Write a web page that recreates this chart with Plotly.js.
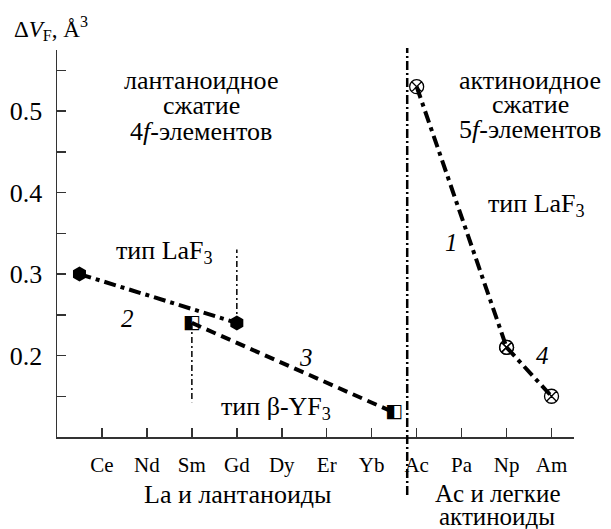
<!DOCTYPE html>
<html><head><meta charset="utf-8">
<script src="https://cdn.plot.ly/plotly-3.0.1.min.js"></script>
<style>body{margin:0;background:#fff}#c{width:611px;height:529px}</style>
</head><body><div id="c"></div>
<script>
// Tick labels (every other element), positions in element-index units
const tickPos = [1,2,3,4,5,6,7,8,9,10,11];
const tickLabels = ['Ce','Nd','Sm','Gd','Dy','Er','Yb','Ac','Pa','Np','Am'];
// series 2: LaF3 type, La -> Gd
const s2x = [0.5, 4];      // La, Gd
const s2y = [0.30, 0.24];
// series 3: β-YF3 type, Sm -> Lu
const s3x = [3, 7.5];      // Sm, Lu
const s3y = [0.24, 0.13];
// series 1: actinides Ac -> Np
const s1x = [8, 10];       // Ac, Np
const s1y = [0.53, 0.21];
// series 4: Np -> Am
const s4x = [10, 11];
const s4y = [0.21, 0.15];
// thin phase-boundary markers
const smLineY = [0.24, 0.1425];
const gdLineY = [0.24, 0.33];
const separatorX = 7.79;
const yTicks = [0.15,0.2,0.25,0.3,0.35,0.4,0.45,0.5,0.55];
const yTickText = ['','0.2','','0.3','','0.4','','0.5',''];

const xRange = [0, 11.5], yRange = [0.1, 0.575];
const L = 57, T = 50, W = 517, H = 387;
const px = x => (x - L) / W;
const py = y => (T + H - y) / H;
const F = 'Liberation Serif';
const blk = '#000';

const traces = [
  {x: s2x, y: s2y, mode: 'lines+markers', line: {color: blk, width: 4, dash: '12px,5px,4px,5px'},
   marker: {symbol: 'hexagon', size: 15, color: blk}},
  {x: s3x, y: s3y, mode: 'lines', line: {color: blk, width: 4, dash: '10px,6px'}},
  {x: s3x, y: s3y, mode: 'text', text: ['◧','◧'], textposition: 'middle center',
   textfont: {family: 'DejaVu Sans', size: 19, color: blk}},
  {x: s1x, y: s1y, mode: 'lines+markers', line: {color: blk, width: 4, dash: '12px,5px,4px,5px'},
   marker: {symbol: 'circle-x-open', size: 14, color: blk, line: {width: 1.3, color: blk}}},
  {x: s4x, y: s4y, mode: 'lines+markers', line: {color: blk, width: 4, dash: '12px,5px,4px,5px'},
   marker: {symbol: 'circle-x-open', size: 14, color: blk, line: {width: 1.3, color: blk}}},
  {x: [s3x[0], s3x[0]], y: smLineY, mode: 'lines', line: {color: blk, width: 1.5, dash: '6px,3px,2px,3px'}},
  {x: [s2x[1], s2x[1]], y: gdLineY, mode: 'lines', line: {color: blk, width: 1.5, dash: '6px,3px,2px,3px'}}
];

function ann(text, x, y, size, extra) {
  return Object.assign({text: text, xref: 'paper', yref: 'paper', x: px(x), y: py(y),
    xanchor: 'center', yanchor: 'middle', showarrow: false,
    font: {family: F, size: size, color: blk}}, extra || {});
}

const annotations = [
  ann('Δ<i>V</i><sub>F</sub>, Å<sup>3</sup>', 12, 28, 23, {xanchor: 'left'}),
  ann('лантаноидное', 201, 80, 26),
  ann('сжатие', 201, 105, 26),
  ann('4<i>f</i>-элементов', 201, 131, 26),
  ann('актиноидное', 530, 80, 26),
  ann('сжатие', 530, 104, 26),
  ann('5<i>f</i>-элементов', 530, 129, 26),
  ann('тип LaF<sub>3</sub>', 164, 252, 26),
  ann('тип LaF<sub>3</sub>', 536, 205, 26),
  ann('тип β-YF<sub>3</sub>', 276, 408, 26),
  ann('<i>2</i>', 127, 318, 25),
  ann('<i>3</i>', 306, 357, 25),
  ann('<i>1</i>', 451, 243, 25),
  ann('<i>4</i>', 542, 355, 25),
  ann('La и лантаноиды', 238, 494, 26),
  ann('Ac и легкие', 497, 493, 25),
  ann('актиноиды', 497, 516, 25)
];

const layout = {
  width: 611, height: 529,
  margin: {l: L, r: 611 - L - W, t: T, b: 529 - T - H},
  paper_bgcolor: '#fff', plot_bgcolor: '#fff', showlegend: false,
  font: {family: F, color: blk},
  xaxis: {range: xRange, showline: true, linecolor: '#333', linewidth: 1.5, showgrid: false, zeroline: false,
    ticks: 'inside', ticklen: 9, tickwidth: 1.5, tickcolor: '#333',
    tickvals: tickPos, ticktext: tickLabels, tickfont: {family: F, size: 21, color: blk}, ticklabelstandoff: 8},
  yaxis: {range: yRange, showline: true, linecolor: '#333', linewidth: 1.5, showgrid: false, zeroline: false,
    ticks: 'inside', ticklen: 9, tickwidth: 1.5, tickcolor: '#333',
    tickvals: yTicks, ticktext: yTickText, tickfont: {family: F, size: 26, color: blk}, ticklabelstandoff: 8},
  shapes: [{type: 'line', xref: 'paper', yref: 'paper',
    x0: (separatorX - xRange[0]) / (xRange[1] - xRange[0]), x1: (separatorX - xRange[0]) / (xRange[1] - xRange[0]),
    y0: py(495), y1: py(48), line: {color: blk, width: 2.5, dash: '9px,3px,2px,3px'}}],
  annotations: annotations
};

Plotly.newPlot('c', traces, layout, {displayModeBar: false, staticPlot: true});
</script></body></html>
